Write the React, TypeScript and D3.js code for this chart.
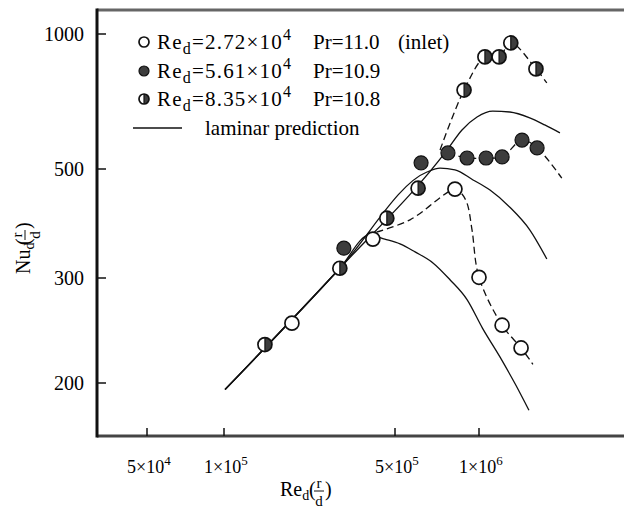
import React from "react";
import * as d3 from "d3";

// ---- axis ticks ----
const yTickValues = [200, 300, 500, 1000];
const xTickValues = [5e4, 1e5, 5e5, 1e6];
const xTickMantissa = ["5", "1", "5", "1"];
const xTickExponent = ["4", "5", "5", "6"];

// ---- measured data: Re_d(r/d) vs Nu_d(r/d) ----
// open: Re_d = 2.72e4, Pr = 11.0 (inlet)
const openRe = [1.895e5, 4.06e5, 8.2e5, 1.0e6, 1.21e6, 1.415e6];
const openNu = [252, 360, 455, 301, 250, 229];
// filled: Re_d = 5.61e4, Pr = 10.9
const filledRe = [3.09e5, 6.2e5, 7.74e5, 9.06e5, 1.06e6, 1.21e6, 1.426e6, 1.615e6];
const filledNu = [345, 516, 543, 529, 529, 532, 580, 557];
// half: Re_d = 8.35e4, Pr = 10.8
const halfRe = [1.47e5, 2.975e5, 4.63e5, 6.05e5, 8.84e5, 1.05e6, 1.18e6, 1.3e6, 1.6e6];
const halfNu = [232, 314, 397, 457, 750, 889, 889, 955, 836];

// ---- dashed fits through data ----
const openFitRe = [4.2e5, 5.66e5, 8.2e5, 8.62e5, 9.06e5, 9.44e5, 1.0e6, 1.21e6, 1.415e6, 1.56e6];
const openFitNu = [372, 394, 455, 447, 426, 376, 301, 250, 229, 215];
const filledFitRe = [7.74e5, 9.06e5, 1.06e6, 1.21e6, 1.426e6, 1.615e6, 1.98e6];
const filledFitNu = [543, 529, 529, 532, 580, 557, 479];
const halfFitRe = [7.25e5, 8.84e5, 1.05e6, 1.18e6, 1.3e6, 1.6e6, 1.75e6];
const halfFitNu = [551, 750, 889, 889, 955, 836, 778];

// ---- laminar predictions ----
const lam1Re = [1.01e5, 2.975e5, 3.94e5, 4.54e5, 5.21e5, 5.9e5, 6.84e5, 7.87e5, 9.06e5, 1.03e6, 1.19e6, 1.35e6, 1.51e6];
const lam1Nu = [195, 314, 367, 360, 352, 339, 322, 298, 276, 247, 221, 199, 180];
const lam2Re = [1.01e5, 2.975e5, 6.51e5, 7.25e5, 8.2e5, 9.52e5, 1.095e6, 1.29e6, 1.52e6, 1.75e6];
const lam2Nu = [195, 314, 493, 502, 498, 475, 453, 418, 376, 328];
const lam3Re = [1.01e5, 2.975e5, 7.68e5, 8.69e5, 9.84e5, 1.12e6, 1.29e6, 1.52e6, 1.72e6, 1.95e6];
const lam3Nu = [195, 314, 551, 611, 653, 673, 670, 650, 627, 602];

// ---- legend ----
const legendRe = ["2.72", "5.61", "8.35"];
const legendPr = ["11.0", "10.9", "10.8"];
const legendNote = ["(inlet)", "", ""];
const legendKinds = ["open", "filled", "half"];
const laminarLabel = "laminar prediction";

const FONT = "'Liberation Serif', 'Times New Roman', serif";
const DARK = "#3d3d3d";

function Marker({ kind, cx, cy, r }: { kind: string; cx: number; cy: number; r: number }) {
  if (kind === "filled") {
    return <circle cx={cx} cy={cy} r={r} fill={DARK} stroke="#111" strokeWidth={1.2} />;
  }
  if (kind === "half") {
    return (
      <g>
        <circle cx={cx} cy={cy} r={r} fill="#fff" />
        <path d={`M${cx},${cy - r} A${r},${r} 0 0 1 ${cx},${cy + r} Z`} fill={DARK} />
        <line x1={cx} x2={cx} y1={cy - r} y2={cy + r} stroke="#111" strokeWidth={1.2} />
        <circle cx={cx} cy={cy} r={r} fill="none" stroke="#111" strokeWidth={1.7} />
      </g>
    );
  }
  return <circle cx={cx} cy={cy} r={r} fill="#fff" stroke="#111" strokeWidth={1.7} />;
}

export default function App() {
  const left = 97, top = 10, bottom = 436, right = 624;
  const x = d3.scaleLog().domain(xTickValues).range([147, 224, 395, 479]);
  const y = d3.scaleLog().domain(yTickValues).range([383, 278, 169, 34]);

  const pts = (re: number[], nu: number[]) => re.map((r, i) => [r, nu[i]] as [number, number]);
  const mk = (curve: any) =>
    d3.line<[number, number]>().x((d) => x(d[0])).y((d) => y(d[1])).curve(curve);
  const lamLine = mk(d3.curveMonotoneX);
  const fitLine = mk(d3.curveCatmullRom.alpha(0.5));

  const series = [
    { kind: "open", re: openRe, nu: openNu },
    { kind: "filled", re: filledRe, nu: filledNu },
    { kind: "half", re: halfRe, nu: halfNu },
  ];

  const legendY = [42, 71, 99];
  const lamLegendY = 128;

  return (
    <svg width={624} height={511} style={{ position: "absolute", left: 0, top: 0, background: "#fff" }}
      fontFamily={FONT}>
      {/* frame */}
      <line x1={left} x2={right} y1={top} y2={top} stroke="#666" strokeWidth={3} />
      <line x1={left} x2={right} y1={bottom} y2={bottom} stroke="#444" strokeWidth={3} />
      <line x1={left} x2={left} y1={top - 1.5} y2={bottom + 1.5} stroke="#111" strokeWidth={3} />

      {/* y ticks */}
      {yTickValues.map((v) => (
        <g key={"y" + v}>
          <line x1={left} x2={left + 9} y1={y(v)} y2={y(v)} stroke="#111" strokeWidth={1.5} />
          <text x={left - 13} y={y(v)} dy="0.35em" textAnchor="end" fontSize={20}>{v}</text>
        </g>
      ))}
      {/* x ticks */}
      {xTickValues.map((v, i) => (
        <g key={"x" + v}>
          <line x1={x(v)} x2={x(v)} y1={bottom} y2={bottom - 8} stroke="#111" strokeWidth={1.5} />
          <text x={x(v) - 20} y={473} fontSize={18}>
            {xTickMantissa[i]}×10
            <tspan dy={-8} fontSize={13}>{xTickExponent[i]}</tspan>
          </text>
        </g>
      ))}

      {/* axis titles */}
      <g transform="translate(312,496)" fontSize={20}>
        <text x={-32} y={0}>Re<tspan dy={4} fontSize={14}>d</tspan></text>
        <text x={-3} y={0}>(</text>
        <text x={7} y={-8} fontSize={15} textAnchor="middle">r</text>
        <line x1={2} x2={12} y1={-5} y2={-5} stroke="#111" strokeWidth={1} />
        <text x={7} y={10} fontSize={15} textAnchor="middle">d</text>
        <text x={13} y={0}>)</text>
      </g>
      <g transform="translate(30,242) rotate(-90)" fontSize={20}>
        <text x={-32} y={0}>Nu<tspan dy={4} fontSize={14}>d</tspan></text>
        <text x={-3} y={0}>(</text>
        <text x={7} y={-8} fontSize={15} textAnchor="middle">r</text>
        <line x1={2} x2={12} y1={-5} y2={-5} stroke="#111" strokeWidth={1} />
        <text x={7} y={10} fontSize={15} textAnchor="middle">d</text>
        <text x={13} y={0}>)</text>
      </g>

      {/* laminar predictions */}
      {[pts(lam1Re, lam1Nu), pts(lam2Re, lam2Nu), pts(lam3Re, lam3Nu)].map((d, i) => (
        <path key={"lam" + i} d={lamLine(d) || ""} fill="none" stroke="#111" strokeWidth={1.3} />
      ))}
      {/* dashed fits */}
      {[pts(openFitRe, openFitNu), pts(filledFitRe, filledFitNu), pts(halfFitRe, halfFitNu)].map((d, i) => (
        <path key={"fit" + i} d={fitLine(d) || ""} fill="none" stroke="#111" strokeWidth={1.3}
          strokeDasharray="7,4" />
      ))}

      {/* markers */}
      {series.map((s) =>
        s.re.map((r, i) => (
          <Marker key={s.kind + i} kind={s.kind} cx={x(r)} cy={y(s.nu[i])} r={7} />
        ))
      )}

      {/* legend */}
      {legendKinds.map((k, i) => (
        <g key={"lg" + k}>
          <Marker kind={k} cx={144} cy={legendY[i]} r={5} />
          <text x={157} y={legendY[i]} dy="0.35em" fontSize={21} letterSpacing={1.2}>
            Re<tspan dy={5} fontSize={16}>d</tspan>
            <tspan dy={-5}>={legendRe[i]}×10</tspan>
            <tspan dy={-9} fontSize={16}>4</tspan>
          </text>
          <text x={313} y={legendY[i]} dy="0.35em" fontSize={21}>Pr={legendPr[i]}</text>
          {legendNote[i] && (
            <text x={398} y={legendY[i]} dy="0.35em" fontSize={21}>{legendNote[i]}</text>
          )}
        </g>
      ))}
      <line x1={133} x2={182} y1={lamLegendY} y2={lamLegendY} stroke="#111" strokeWidth={1.3} />
      <text x={205} y={lamLegendY} dy="0.35em" fontSize={21}>{laminarLabel}</text>
    </svg>
  );
}
